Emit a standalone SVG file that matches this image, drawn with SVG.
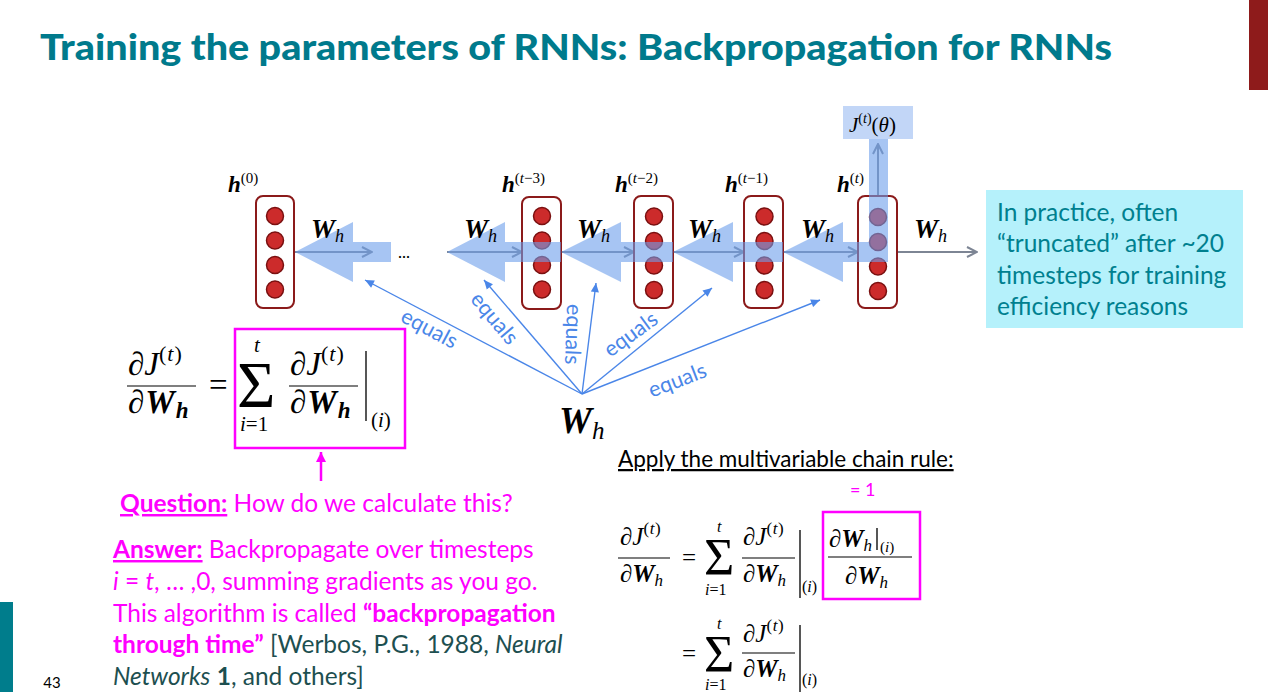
<svg xmlns="http://www.w3.org/2000/svg" width="1268" height="692" viewBox="0 0 1268 692">
  <style>
    .sans { font-family: Lato, "Open Sans", "Liberation Sans", sans-serif; }
    .math { font-family: "Liberation Serif", "DejaVu Serif", serif; fill: #000; }
    .bi { font-weight: bold; font-style: italic; }
    .it { font-style: italic; }
    .node-box { fill: #fff; stroke: #8b1a1a; stroke-width: 2; }
    .unit { fill: #cc2b2b; stroke: #7a1010; stroke-width: 1.5; }
    .flow { stroke: #7d8594; stroke-width: 2; fill: none; }
    .grad { fill: #6d9eeb; fill-opacity: 0.6; }
    .eqline { stroke: #4a86e8; stroke-width: 1.4; fill: none; }
    .eqlabel { fill: #4a86e8; font-size: 21.5px; }
    .frac { stroke: #000; stroke-width: 1.2; }
    .evalbar { stroke: #444; stroke-width: 1.8; }
    .pink { fill: #ff00ff; }
    .pinkbox { fill: none; stroke: #ff00ff; stroke-width: 2.5; }
  </style>
  <defs>
    <marker id="open-head" viewBox="0 0 12 12" refX="11" refY="6" markerWidth="12" markerHeight="12" markerUnits="userSpaceOnUse" orient="auto">
      <path d="M1 1 L11 6 L1 11" fill="none" stroke="#7d8594" stroke-width="2"/>
    </marker>
    <marker id="blue-head" viewBox="0 0 10 10" refX="10" refY="5" markerWidth="10" markerHeight="9" markerUnits="userSpaceOnUse" orient="auto">
      <path d="M0 0.5 L10 5 L0 9.5 Z" fill="#4a86e8"/>
    </marker>
    <marker id="pink-head" viewBox="0 0 10 10" refX="10" refY="5" markerWidth="12" markerHeight="10" markerUnits="userSpaceOnUse" orient="auto">
      <path d="M0 0 L10 5 L0 10 Z" fill="#ff00ff"/>
    </marker>
  </defs>

  <rect width="1268" height="692" fill="#fff"/>

  <!-- slide decoration -->
  <rect x="1249" y="0" width="19" height="90" fill="#8e1b1b"/>
  <rect x="0" y="602" width="13" height="90" fill="#007d8c"/>
  <text x="52" y="688" class="sans" font-size="15" text-anchor="middle" fill="#000">43</text>

  <!-- title -->
  <text x="40" y="60" class="sans" font-size="36" font-weight="900" fill="#007a8c" textLength="1072" lengthAdjust="spacingAndGlyphs">Training the parameters of RNNs: Backpropagation for RNNs</text>

  <!-- forward connectors -->
  <g id="connectors">
    <line class="flow" x1="295" y1="252" x2="372" y2="252" marker-end="url(#open-head)"/>
    <line class="flow" x1="447" y1="252" x2="522" y2="252" marker-end="url(#open-head)"/>
    <line class="flow" x1="561" y1="252" x2="634" y2="252" marker-end="url(#open-head)"/>
    <line class="flow" x1="673" y1="252" x2="744" y2="252" marker-end="url(#open-head)"/>
    <line class="flow" x1="783" y1="252" x2="858" y2="252" marker-end="url(#open-head)"/>
    <line class="flow" x1="897" y1="252" x2="977" y2="252" stroke="#808080" marker-end="url(#open-head)"/>
    <line class="flow" x1="878" y1="198" x2="878" y2="144" marker-end="url(#open-head)"/>
    <text x="404" y="258" class="sans" font-size="17" fill="#000" text-anchor="middle">...</text>
  </g>

  <!-- hidden state nodes -->
  <g id="h0">
    <rect class="node-box" x="256" y="196" width="38" height="112" rx="7"/>
    <circle class="unit" cx="275" cy="216" r="8.5"/>
    <circle class="unit" cx="275" cy="240.5" r="8.5"/>
    <circle class="unit" cx="275" cy="265" r="8.5"/>
    <circle class="unit" cx="275" cy="289.5" r="8.5"/>
    <text class="math" x="228" y="192"><tspan class="bi" font-size="23">h</tspan><tspan font-size="15" dy="-9">(0)</tspan></text>
  </g>
  <g id="h-t3">
    <rect class="node-box" x="522" y="197" width="39" height="112" rx="7"/>
    <circle class="unit" cx="542" cy="216" r="8.5"/>
    <circle class="unit" cx="542" cy="240.5" r="8.5"/>
    <circle class="unit" cx="542" cy="265" r="8.5"/>
    <circle class="unit" cx="542" cy="289.5" r="8.5"/>
    <text class="math" x="502" y="192"><tspan class="bi" font-size="23">h</tspan><tspan font-size="15" dy="-9">(<tspan class="it">t</tspan>−3)</tspan></text>
  </g>
  <g id="h-t2">
    <rect class="node-box" x="634" y="196" width="39" height="112" rx="7"/>
    <circle class="unit" cx="654" cy="216.5" r="8.5"/>
    <circle class="unit" cx="654" cy="241" r="8.5"/>
    <circle class="unit" cx="654" cy="265.5" r="8.5"/>
    <circle class="unit" cx="654" cy="290" r="8.5"/>
    <text class="math" x="615" y="192"><tspan class="bi" font-size="23">h</tspan><tspan font-size="15" dy="-9">(<tspan class="it">t</tspan>−2)</tspan></text>
  </g>
  <g id="h-t1">
    <rect class="node-box" x="744" y="196" width="39" height="112" rx="7"/>
    <circle class="unit" cx="764.5" cy="216.5" r="8.5"/>
    <circle class="unit" cx="764.5" cy="241" r="8.5"/>
    <circle class="unit" cx="764.5" cy="265.5" r="8.5"/>
    <circle class="unit" cx="764.5" cy="290" r="8.5"/>
    <text class="math" x="725" y="192"><tspan class="bi" font-size="23">h</tspan><tspan font-size="15" dy="-9">(<tspan class="it">t</tspan>−1)</tspan></text>
  </g>
  <g id="h-t">
    <rect class="node-box" x="858" y="196" width="39" height="112" rx="7"/>
    <circle class="unit" cx="878" cy="217" r="8.5"/>
    <circle class="unit" cx="878" cy="242" r="8.5"/>
    <circle class="unit" cx="878" cy="266.5" r="8.5"/>
    <circle class="unit" cx="878" cy="291" r="8.5"/>
    <text class="math" x="837" y="192"><tspan class="bi" font-size="23">h</tspan><tspan font-size="15" dy="-9">(<tspan class="it">t</tspan>)</tspan></text>
  </g>

  <!-- gradient flow overlay -->
  <g id="gradient-flow">
    <polygon class="grad" points="295,252 353,222 353,242 391,242 391,262 353,262 353,282"/>
    <polygon class="grad" points="447,252 505,222 505,242 561,242 561,262 505,262 505,282"/>
    <polygon class="grad" points="561,252 621,222 621,242 673,242 673,262 621,262 621,282"/>
    <polygon class="grad" points="673,252 733,222 733,242 783,242 783,262 733,262 733,282"/>
    <polygon class="grad" points="783,252 843,222 843,242 869,242 869,139 888,139 888,262 843,262 843,282"/>
  </g>

  <!-- loss node -->
  <g id="loss">
    <rect x="843" y="106" width="70" height="33" fill="#6d9eeb" fill-opacity="0.42"/>
    <text class="math" x="849" y="132" font-size="21"><tspan class="it">J</tspan><tspan font-size="14" dy="-9">(<tspan class="it">t</tspan>)</tspan><tspan dy="9">(<tspan class="it">θ</tspan>)</tspan></text>
  </g>

  <!-- recurrent weight labels -->
  <g id="weight-labels" class="math">
    <text x="311" y="238"><tspan class="bi" font-size="27">W</tspan><tspan class="it" font-size="18" dy="4">h</tspan></text>
    <text x="464" y="238"><tspan class="bi" font-size="27">W</tspan><tspan class="it" font-size="18" dy="4">h</tspan></text>
    <text x="577" y="238"><tspan class="bi" font-size="27">W</tspan><tspan class="it" font-size="18" dy="4">h</tspan></text>
    <text x="688" y="238"><tspan class="bi" font-size="27">W</tspan><tspan class="it" font-size="18" dy="4">h</tspan></text>
    <text x="801" y="238"><tspan class="bi" font-size="27">W</tspan><tspan class="it" font-size="18" dy="4">h</tspan></text>
    <text x="914" y="238"><tspan class="bi" font-size="27">W</tspan><tspan class="it" font-size="18" dy="4">h</tspan></text>
  </g>

  <!-- shared weight node and its "equals" links -->
  <g id="shared-weight">
    <text class="math" x="559" y="433"><tspan class="bi" font-size="37">W</tspan><tspan class="it" font-size="25" dy="6">h</tspan></text>
  </g>
  <g id="equals-links">
    <line class="eqline" x1="582" y1="394" x2="365" y2="280" marker-end="url(#blue-head)"/>
    <line class="eqline" x1="582" y1="394" x2="484" y2="280" marker-end="url(#blue-head)"/>
    <line class="eqline" x1="582" y1="394" x2="596" y2="283" marker-end="url(#blue-head)"/>
    <line class="eqline" x1="582" y1="394" x2="712" y2="288" marker-end="url(#blue-head)"/>
    <line class="eqline" x1="582" y1="394" x2="820" y2="300" marker-end="url(#blue-head)"/>
    <text class="sans eqlabel" text-anchor="middle" transform="translate(426,335) rotate(28)">equals</text>
    <text class="sans eqlabel" text-anchor="middle" transform="translate(489,323) rotate(50)">equals</text>
    <text class="sans eqlabel" text-anchor="middle" transform="translate(566,334) rotate(92)">equals</text>
    <text class="sans eqlabel" text-anchor="middle" transform="translate(635,340) rotate(-36)">equals</text>
    <text class="sans eqlabel" text-anchor="middle" transform="translate(680,387) rotate(-21)">equals</text>
  </g>

  <!-- total gradient formula -->
  <g id="bptt-formula" class="math">
    <text x="128" y="375" font-size="33">∂<tspan class="it">J</tspan><tspan font-size="22" dy="-14" letter-spacing="1">(<tspan class="it">t</tspan>)</tspan></text>
    <line class="frac" x1="127" y1="386" x2="196" y2="386"/>
    <text x="128" y="413" font-size="33">∂<tspan class="bi" dx="1">W</tspan><tspan class="bi" font-size="23" dy="5" dx="1">h</tspan></text>
    <text x="209" y="396" font-size="33">=</text>
    <text x="237" y="407" font-size="66">Σ</text>
    <text x="254" y="352" font-size="21" class="it">t</text>
    <text x="240" y="431" font-size="21"><tspan class="it">i</tspan>=1</text>
    <text x="290" y="375" font-size="33">∂<tspan class="it">J</tspan><tspan font-size="22" dy="-14" letter-spacing="1">(<tspan class="it">t</tspan>)</tspan></text>
    <line class="frac" x1="289" y1="386" x2="358" y2="386"/>
    <text x="290" y="413" font-size="33">∂<tspan class="bi" dx="1">W</tspan><tspan class="bi" font-size="23" dy="5" dx="1">h</tspan></text>
    <line class="evalbar" x1="366" y1="351" x2="366" y2="421"/>
    <text x="371" y="427" font-size="21">(<tspan class="it">i</tspan>)</text>
    <rect class="pinkbox" x="235" y="329" width="170" height="119"/>
  </g>

  <!-- question pointer -->
  <line x1="321" y1="481" x2="321" y2="452" stroke="#ff00ff" stroke-width="2.5" marker-end="url(#pink-head)"/>

  <g id="question" class="sans pink" font-size="24.5">
    <text x="120" y="512"><tspan font-weight="bold" text-decoration="underline">Question:</tspan> How do we calculate this?</text>
  </g>
  <g id="answer" class="sans pink" font-size="24.5">
    <text x="113" y="558"><tspan font-weight="bold" text-decoration="underline">Answer:</tspan> Backpropagate over timesteps</text>
    <text x="113" y="590"><tspan class="it">i</tspan> = <tspan class="it">t</tspan>, … ,0, summing gradients as you go.</text>
    <text x="113" y="622">This algorithm is called <tspan font-weight="bold">“backpropagation</tspan></text>
    <text x="113" y="653"><tspan font-weight="bold">through time”</tspan><tspan fill="#1d4f50"> [Werbos, P.G., 1988, <tspan class="it">Neural</tspan></tspan></text>
    <text x="113" y="685" fill="#1d4f50"><tspan class="it">Networks</tspan> <tspan font-weight="bold">1</tspan>, and others]</text>
  </g>

  <!-- truncation note -->
  <g id="note">
    <rect x="986" y="190" width="257" height="138" fill="#b5f1fb"/>
    <g class="sans" font-size="24.5" fill="#00808f">
      <text x="997" y="221">In practice, often</text>
      <text x="997" y="252">“truncated” after ~20</text>
      <text x="997" y="284">timesteps for training</text>
      <text x="997" y="315">efficiency reasons</text>
    </g>
  </g>

  <!-- chain rule derivation -->
  <g id="chain-rule">
    <text x="618" y="467" class="sans" font-size="22.5" fill="#000" text-decoration="underline">Apply the multivariable chain rule:</text>
    <text x="850" y="496" class="sans pink" font-size="18">= 1</text>
    <g class="math">
      <text x="620" y="545" font-size="25">∂<tspan class="it">J</tspan><tspan font-size="17" dy="-11" letter-spacing="0.5">(<tspan class="it">t</tspan>)</tspan></text>
      <line class="frac" x1="618" y1="558" x2="670" y2="558"/>
      <text x="620" y="582" font-size="25">∂<tspan class="bi">W</tspan><tspan class="it" font-size="17" dy="4">h</tspan></text>
      <text x="682" y="566" font-size="25">=</text>
      <text x="704" y="575" font-size="52">Σ</text>
      <text x="717" y="532" font-size="16" class="it">t</text>
      <text x="705" y="595" font-size="16"><tspan class="it">i</tspan>=1</text>
      <text x="743" y="545" font-size="25">∂<tspan class="it">J</tspan><tspan font-size="17" dy="-11" letter-spacing="0.5">(<tspan class="it">t</tspan>)</tspan></text>
      <line class="frac" x1="742" y1="558" x2="795" y2="558"/>
      <text x="743" y="582" font-size="25">∂<tspan class="bi">W</tspan><tspan class="it" font-size="17" dy="4">h</tspan></text>
      <line class="evalbar" x1="800" y1="530" x2="800" y2="598"/>
      <text x="802" y="592" font-size="16">(<tspan class="it">i</tspan>)</text>

      <rect class="pinkbox" x="823" y="512" width="97" height="87"/>
      <text x="829" y="547" font-size="25">∂<tspan class="bi">W</tspan><tspan class="it" font-size="17" dy="4">h</tspan></text>
      <line class="evalbar" x1="877" y1="528" x2="877" y2="550"/>
      <text x="880" y="552" font-size="15">(<tspan class="it">i</tspan>)</text>
      <line class="frac" x1="828" y1="557" x2="912" y2="557"/>
      <text x="845" y="584" font-size="25">∂<tspan class="bi">W</tspan><tspan class="it" font-size="17" dy="4">h</tspan></text>

      <text x="682" y="662" font-size="25">=</text>
      <text x="704" y="672" font-size="52">Σ</text>
      <text x="717" y="629" font-size="16" class="it">t</text>
      <text x="705" y="690" font-size="16"><tspan class="it">i</tspan>=1</text>
      <text x="743" y="642" font-size="25">∂<tspan class="it">J</tspan><tspan font-size="17" dy="-11" letter-spacing="0.5">(<tspan class="it">t</tspan>)</tspan></text>
      <line class="frac" x1="742" y1="653" x2="795" y2="653"/>
      <text x="743" y="677" font-size="25">∂<tspan class="bi">W</tspan><tspan class="it" font-size="17" dy="4">h</tspan></text>
      <line class="evalbar" x1="800" y1="625" x2="800" y2="692"/>
      <text x="802" y="685" font-size="16">(<tspan class="it">i</tspan>)</text>
    </g>
  </g>
</svg>
